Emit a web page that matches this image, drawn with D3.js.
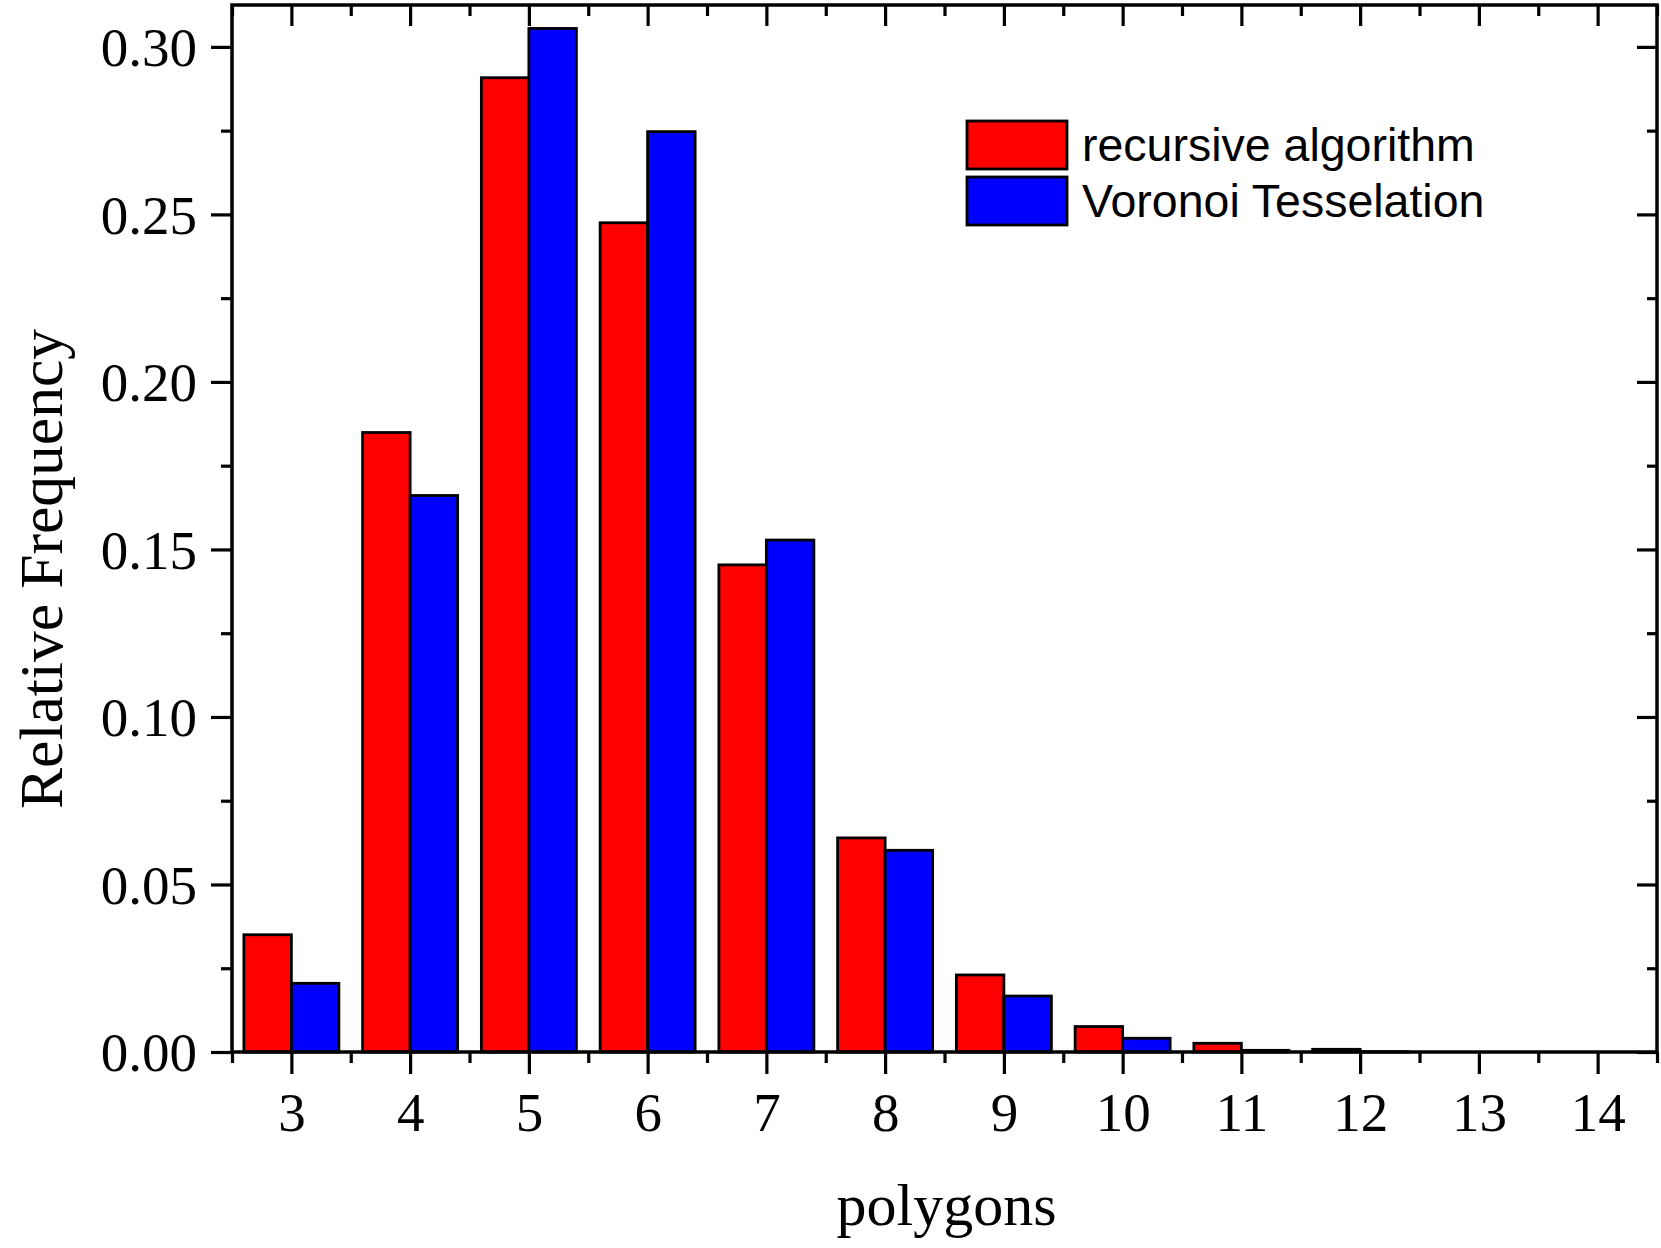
<!DOCTYPE html>
<html>
<head>
<meta charset="utf-8">
<script src="https://cdn.jsdelivr.net/npm/d3@7"></script>
<style>
  html, body { margin: 0; padding: 0; background: #fff; }
  svg { display: block; }
</style>
</head>
<body>
<svg id="chart" width="1661" height="1248"></svg>
<script>
const categories = [3, 4, 5, 6, 7, 8, 9, 10, 11, 12, 13, 14];
const recursiveValues = [0.035, 0.1849, 0.2908, 0.2475, 0.1454, 0.0639, 0.0230, 0.0076, 0.0026, 0.0008, 0, 0];
const voronoiValues   = [0.0205, 0.1661, 0.3055, 0.2747, 0.1528, 0.0602, 0.0167, 0.0041, 0.0005, 0.0001, 0, 0];
const seriesNames = ["recursive algorithm", "Voronoi Tesselation"];
const seriesColors = ["#ff0000", "#0000ff"];
const yTickValues = [0, 0.05, 0.10, 0.15, 0.20, 0.25, 0.30];
const yMinorValues = [0.025, 0.075, 0.125, 0.175, 0.225, 0.275];
const xMinorValues = [2.5, 3.5, 4.5, 5.5, 6.5, 7.5, 8.5, 9.5, 10.5, 11.5, 12.5, 13.5, 14.5];

const svg = d3.select("#chart");
const L = 232, R = 1657, T = 5, B = 1052;
const x = d3.scaleLinear().domain([2.5, 14.5]).range([L, R]);
const y = d3.scaleLinear().domain([0, 0.3125]).range([B, T]);
const barW = 0.4;

const serif = "'Liberation Serif','Times New Roman',Times,serif";
const sans = "'Liberation Sans',Arial,Helvetica,sans-serif";

// Bars
const series = [recursiveValues, voronoiValues];
series.forEach((vals, si) => {
  svg.append("g").selectAll("rect")
    .data(categories.map((c, i) => ({c, v: vals[i]})).filter(d => d.v > 0))
    .join("rect")
    .attr("x", d => x(si === 0 ? d.c - barW : d.c))
    .attr("width", d => x(d.c + barW) - x(d.c))
    .attr("y", d => y(d.v))
    .attr("height", d => y(0) - y(d.v))
    .attr("fill", seriesColors[si])
    .attr("stroke", "#000")
    .attr("stroke-width", 2.8);
});

function styleAxis(g, w) {
  g.select(".domain").remove();
  g.selectAll(".tick line").attr("stroke", "#000").attr("stroke-width", w || 3.2);
}

// Bottom axis (outward)
const gB = svg.append("g").attr("transform", `translate(0,${B})`)
  .call(d3.axisBottom(x).tickValues(categories).tickSize(22).tickPadding(18).tickFormat(d3.format("d")));
styleAxis(gB);
gB.selectAll("text").attr("font-family", serif).attr("font-size", 55).attr("fill", "#000");
const gBm = svg.append("g").attr("transform", `translate(0,${B})`)
  .call(d3.axisBottom(x).tickValues(xMinorValues).tickSize(11).tickFormat(""));
styleAxis(gBm);

// Top axis (inward)
const gT = svg.append("g").attr("transform", `translate(0,${T})`)
  .call(d3.axisTop(x).tickValues(categories).tickSize(-21).tickFormat(""));
styleAxis(gT);
const gTm = svg.append("g").attr("transform", `translate(0,${T})`)
  .call(d3.axisTop(x).tickValues(xMinorValues).tickSize(-11).tickFormat(""));
styleAxis(gTm);

// Left axis (outward)
const gL = svg.append("g").attr("transform", `translate(${L},0)`)
  .call(d3.axisLeft(y).tickValues(yTickValues).tickSize(21).tickPadding(14).tickFormat(d3.format(".2f")));
styleAxis(gL);
gL.selectAll("text").attr("font-family", serif).attr("font-size", 55).attr("fill", "#000").attr("dy", "0.34em");
const gLm = svg.append("g").attr("transform", `translate(${L},0)`)
  .call(d3.axisLeft(y).tickValues(yMinorValues).tickSize(11).tickFormat(""));
styleAxis(gLm);

// Right axis (inward)
const gR = svg.append("g").attr("transform", `translate(${R},0)`)
  .call(d3.axisRight(y).tickValues(yTickValues).tickSize(-20).tickFormat(""));
styleAxis(gR);
const gRm = svg.append("g").attr("transform", `translate(${R},0)`)
  .call(d3.axisRight(y).tickValues(yMinorValues).tickSize(-10).tickFormat(""));
styleAxis(gRm);

// Frame
svg.append("rect")
  .attr("x", L).attr("y", T).attr("width", R - L).attr("height", B - T)
  .attr("fill", "none").attr("stroke", "#000").attr("stroke-width", 3.5);

// Axis titles
svg.append("text")
  .attr("x", (L + R) / 2 + 2).attr("y", 1225)
  .attr("text-anchor", "middle")
  .attr("font-family", serif).attr("font-size", 60).attr("fill", "#000")
  .text("polygons");
svg.append("text")
  .attr("transform", `translate(62,569) rotate(-90)`)
  .attr("text-anchor", "middle")
  .attr("font-family", serif).attr("font-size", 61.5).attr("fill", "#000")
  .text("Relative Frequency");

// Legend
const legX = 967, legW = 100, legH = 48;
const legY = [121, 177];
seriesNames.forEach((name, i) => {
  svg.append("rect")
    .attr("x", legX).attr("y", legY[i]).attr("width", legW).attr("height", legH)
    .attr("fill", seriesColors[i]).attr("stroke", "#000").attr("stroke-width", 2.8);
  svg.append("text")
    .attr("x", 1082).attr("y", legY[i] + 40)
    .attr("font-family", sans).attr("font-size", 46.5).attr("fill", "#000")
    .text(name);
});
</script>
</body>
</html>
